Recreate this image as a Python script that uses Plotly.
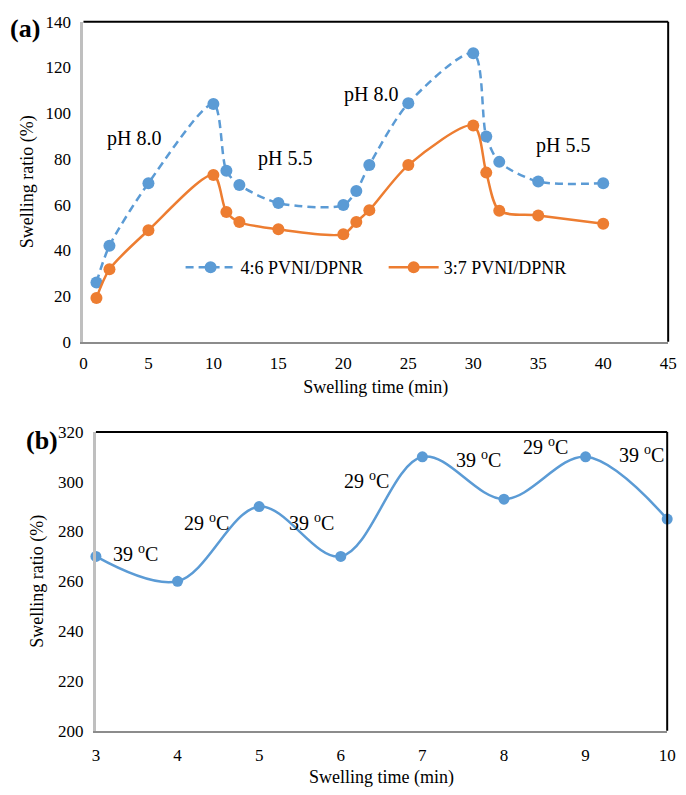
import plotly.graph_objects as go

# ---- Data: panel (a) ----
time_a = [1, 2, 5, 10, 11, 12, 15, 20, 21, 22, 25, 30, 31, 32, 35, 40]
ratio_46 = [26, 42, 69.4, 104, 74.8, 68.6, 60.7, 59.8, 66, 77.3, 104.3, 126.2, 89.8, 78.7, 70.1, 69.4]
ratio_37 = [19.2, 31.7, 48.8, 73, 56.8, 52.4, 49.2, 47.1, 52.4, 57.6, 77.3, 94.6, 74, 57.3, 55.3, 51.6]
name_46 = "4:6 PVNI/DPNR"
name_37 = "3:7 PVNI/DPNR"
ph_labels = ["pH 8.0", "pH 5.5", "pH 8.0", "pH 5.5"]
ph_x = [3.9, 15.5, 22.1, 36.9]
ph_y = [88.8, 80, 108, 85.8]

# ---- Data: panel (b) ----
time_b = [3, 4, 5, 6, 7, 8, 9, 10]
ratio_b = [270, 260, 290, 270, 310, 293, 310, 285]
temp_labels = ["39 <sup>o</sup>C", "29 <sup>o</sup>C", "39 <sup>o</sup>C", "29 <sup>o</sup>C",
               "39 <sup>o</sup>C", "29 <sup>o</sup>C", "39 <sup>o</sup>C"]
temp_x = [3.48, 4.36, 5.64, 6.31, 7.69, 8.51, 9.69]
temp_y = [271.5, 284, 284, 300.5, 309, 314.5, 311]

BLUE = "#5B9BD5"
ORANGE = "#ED7D31"
FONT = "Liberation Serif, Times New Roman, serif"

fig = go.Figure()
fig.add_trace(go.Scatter(x=time_a, y=ratio_46, name=name_46, mode="lines+markers",
                         line=dict(color=BLUE, width=2.5, dash="8px,5px", shape="spline", smoothing=0.8),
                         marker=dict(color=BLUE, size=12), xaxis="x", yaxis="y",
                         cliponaxis=False, legend="legend"))
fig.add_trace(go.Scatter(x=time_a, y=ratio_37, name=name_37, mode="lines+markers",
                         line=dict(color=ORANGE, width=2.5, shape="spline", smoothing=0.8),
                         marker=dict(color=ORANGE, size=12), xaxis="x", yaxis="y",
                         cliponaxis=False, legend="legend2"))
fig.add_trace(go.Scatter(x=time_b, y=ratio_b, mode="lines+markers", showlegend=False,
                         line=dict(color=BLUE, width=2.5, shape="spline", smoothing=1.0),
                         marker=dict(color=BLUE, size=11), xaxis="x2", yaxis="y2", cliponaxis=False))

ann = []
for t, x, y in zip(ph_labels, ph_x, ph_y):
    ann.append(dict(text=t, x=x, y=y, xref="x", yref="y", showarrow=False,
                    font=dict(family=FONT, size=20, color="black")))
for t, x, y in zip(temp_labels, temp_x, temp_y):
    ann.append(dict(text=t, x=x, y=y, xref="x2", yref="y2", showarrow=False,
                    font=dict(family=FONT, size=20, color="black")))
ann.append(dict(text="<b>(a)</b>", x=4 / 686, y=1 - 20 / 795, xref="paper", yref="paper",
                showarrow=False, xanchor="left", yanchor="middle",
                font=dict(family=FONT, size=26, color="black")))
ann.append(dict(text="<b>(b)</b>", x=20 / 686, y=1 - 442 / 795, xref="paper", yref="paper",
                showarrow=False, xanchor="left", yanchor="middle",
                font=dict(family=FONT, size=26, color="black")))

shapes = []
for xa, ya in [("x", "y"), ("x2", "y2")]:
    shapes.append(dict(type="line", xref=f"{xa} domain", yref=f"{ya} domain",
                       x0=0, x1=1, y0=1, y1=1, line=dict(color="black", width=2)))
    shapes.append(dict(type="line", xref=f"{xa} domain", yref=f"{ya} domain",
                       x0=1, x1=1, y0=0, y1=1, line=dict(color="black", width=2)))

tickfont = dict(family=FONT, size=17, color="black")
titlefont = dict(family=FONT, size=18, color="black")

common_x = dict(showgrid=False, zeroline=False, showline=True, linecolor="#8c8c8c", linewidth=2,
                ticks="", ticklen=0, tickfont=tickfont)
common_y = dict(showgrid=False, zeroline=False, showline=True, linecolor="#bfbfbf", linewidth=3,
                ticks="", ticklen=0, tickfont=tickfont, ticklabelstandoff=6)

leg = dict(orientation="h", xref="paper", yref="paper", xanchor="left", yanchor="middle",
           bgcolor="rgba(0,0,0,0)", font=dict(family=FONT, size=18, color="black"), itemwidth=50)

fig.update_layout(
    width=686, height=795, margin=dict(l=0, r=0, t=0, b=0),
    paper_bgcolor="white", plot_bgcolor="white",
    font=dict(family=FONT, color="black"),
    xaxis=dict(domain=[81 / 686, 677 / 686], range=[0, 45], dtick=5, tick0=0, anchor="y",
               ticklabelstandoff=5,
               title=dict(text="Swelling time (min)", font=titlefont, standoff=8), **common_x),
    yaxis=dict(domain=[1 - 341 / 795, 1 - 13 / 795], range=[0, 140], dtick=20, anchor="x",
               title=dict(text="Swelling ratio (%)", font=titlefont, standoff=8), **common_y),
    xaxis2=dict(domain=[93.7 / 686, 676 / 686], range=[3, 10], dtick=1, anchor="y2",
                ticklabelstandoff=8,
                title=dict(text="Swelling time (min)", font=titlefont, standoff=6), **common_x),
    yaxis2=dict(domain=[1 - 739.3 / 795, 1 - 433.3 / 795], range=[200, 320], dtick=20, anchor="x2",
                title=dict(text="Swelling ratio (%)", font=titlefont, standoff=10), **common_y),
    legend=dict(x=180 / 686, y=1 - 265 / 795, **leg),
    legend2=dict(x=387 / 686, y=1 - 265 / 795, **leg),
    annotations=ann, shapes=shapes,
)

fig.write_html("out.html")
